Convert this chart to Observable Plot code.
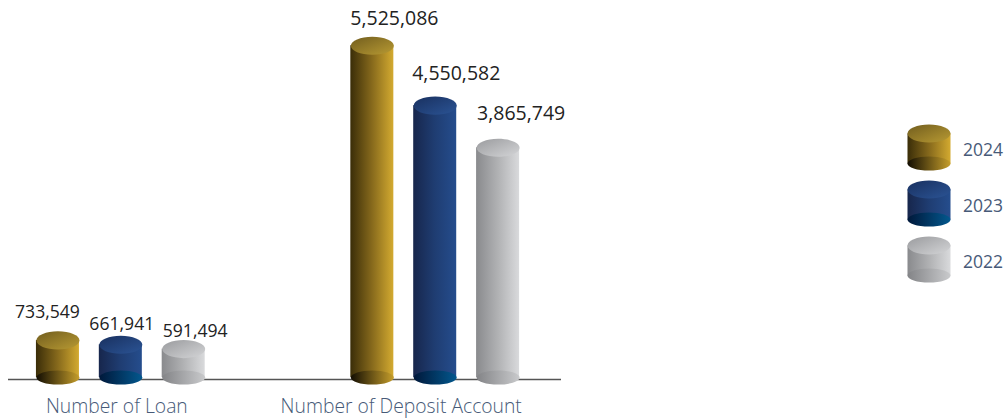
<!DOCTYPE html>
<html>
<head>
<meta charset="utf-8">
<script src="https://cdn.jsdelivr.net/npm/d3@7"></script>
<script src="https://cdn.jsdelivr.net/npm/@observablehq/plot@0.6"></script>
<style>
  html, body { margin: 0; padding: 0; background: #fff; }
  #wrap { position: relative; width: 1004px; height: 418px; }
  #legend { position: absolute; left: 880px; top: 90px; }
</style>
</head>
<body>
<div id="wrap"><div id="main"></div><div id="legend"></div></div>
<script>
// ---- data ----
const categories = ["Number of Loan", "Number of Deposit Account"];
const years = ["2024", "2023", "2022"];
const loanValues = [733549, 661941, 591494];
const depositValues = [5525086, 4550582, 3865749];
const seriesValues = [loanValues, depositValues];

// ---- styles ----
const palette = {
  "2024": {body: ["#3a2d08", "#86691c", "#d3aa30"], top: ["#715d1e", "#b89a33"], bottom: ["#120d02", "#c69e2b"]},
  "2023": {body: ["#17264c", "#1f3d72", "#254d8d"], top: ["#19305f", "#2b5495"], bottom: ["#00183a", "#03588e"]},
  "2022": {body: ["#898a8d", "#b0b1b3", "#d9dadc"], top: ["#9a9b9e", "#d4d5d7"], bottom: ["#838487", "#c9cacc"]}
};
// value-label placement per category and year: [anchor, dx, dy, fontSize]
const labelPlace = [
  {"2024": ["end", 22, -22, 17.6], "2023": ["middle", 1, -15, 17.6], "2022": ["start", -21, -12, 17.6]},
  {"2024": ["start", -22, -21, 19.5], "2023": ["start", -23, -26, 19.5], "2022": ["start", -21, -28, 19.5]}
];
const labelColor = "#475a78";
const font = "'Open Sans', 'Noto Sans', sans-serif";

// ---- table ----
const rows = [];
categories.forEach((c, ci) => years.forEach((y, yi) => rows.push({cat: c, year: y, value: seriesValues[ci][yi], key: c + "|" + y})));
const xDomain = [
  ...years.map(y => categories[0] + "|" + y), "gap1", "gap2",
  ...years.map(y => categories[1] + "|" + y)
];

function ellipse(k) {
  return {draw(ctx, size) {
    const rx = Math.sqrt(size / Math.PI), ry = rx * k, c = 0.5523;
    ctx.moveTo(rx, 0);
    ctx.bezierCurveTo(rx, ry * c, rx * c, ry, 0, ry);
    ctx.bezierCurveTo(-rx * c, ry, -rx, ry * c, -rx, 0);
    ctx.bezierCurveTo(-rx, -ry * c, -rx * c, -ry, 0, -ry);
    ctx.bezierCurveTo(rx * c, -ry, rx, -ry * c, rx, 0);
    ctx.closePath();
  }};
}
function bodyRect(hk) {
  return {draw(ctx, size) {
    const rx = Math.sqrt(size / Math.PI), h = rx * hk;
    ctx.rect(-rx, -h / 2, 2 * rx, h);
  }};
}
const topEll = ellipse(0.42), botEll = ellipse(0.33);
const rBar = 21.5;

const fmt = d3.format(",");
const marks = [Plot.ruleY([0], {stroke: "#555", strokeWidth: 1.6, dy: -6})];
years.forEach(y => {
  const d = rows.filter(r => r.year === y);
  marks.push(
    Plot.barY(d, {x: "key", y: "value", fill: `url(#body${y})`, insetBottom: 8}),
    Plot.dot(d, {x: "key", y: 0, r: rBar, symbol: botEll, fill: `url(#bot${y})`, dy: -8}),
    Plot.dot(d, {x: "key", y: "value", r: rBar, symbol: topEll, fill: `url(#top${y})`})
  );
});
categories.forEach((c, ci) => years.forEach(y => {
  const [anchor, dx, dy, fs] = labelPlace[ci][y];
  marks.push(Plot.text(rows.filter(r => r.cat === c && r.year === y), {x: "key", y: "value",
    text: d => fmt(d.value), textAnchor: anchor, lineAnchor: "bottom", dx, dy, fontSize: fs, fill: "#222"}));
}));
marks.push(
  Plot.text([categories[0]], {x: () => xDomain[1], y: () => 0, text: d => d, lineAnchor: "bottom",
    dx: -4, dy: 27, fontSize: 19.3, fontWeight: 300, fill: labelColor}),
  Plot.text([categories[1]], {x: () => xDomain[6], y: () => 0, text: d => d, lineAnchor: "bottom",
    dx: -34, dy: 27, fontSize: 19.3, fontWeight: 300, fill: labelColor})
);

const chart = Plot.plot({
  width: 1004, height: 418,
  marginLeft: 8, marginRight: 443, marginTop: 16, marginBottom: 33,
  x: {domain: xDomain, paddingInner: 0.316, paddingOuter: 0.5554, align: 0.40, round: false, axis: null},
  y: {domain: [0, 6000000], axis: null},
  style: {fontFamily: font, background: "transparent"},
  marks
});

// gradients
const defs = d3.select(chart).insert("defs", ":first-child");
years.forEach(y => {
  const p = palette[y];
  const add = (id, stops, x2, y2) => {
    const g = defs.append("linearGradient").attr("id", id)
      .attr("x1", 0).attr("y1", 0).attr("x2", x2).attr("y2", y2);
    stops.forEach((s, i) => g.append("stop").attr("offset", i / (stops.length - 1)).attr("stop-color", s));
  };
  add("body" + y, p.body, 1, 0);
  add("top" + y, p.top, 1, 1);
  add("bot" + y, p.bottom, 1, 0);
});
document.getElementById("main").appendChild(chart);

// legend
const legend = Plot.plot({
  width: 124, height: 200,
  marginTop: 57, marginBottom: 30, marginLeft: 0, marginRight: 27,
  y: {type: "point", domain: years, padding: 0, axis: null},
  style: {fontFamily: font, background: "transparent"},
  marks: [
    ...years.map(y => Plot.dot([y], {y: d => d, r: rBar, symbol: bodyRect(30 / 21.5), fill: `url(#body${y})`})),
    ...years.map(y => Plot.dot([y], {y: d => d, r: rBar, symbol: botEll, fill: `url(#bot${y})`, dy: 15})),
    ...years.map(y => Plot.dot([y], {y: d => d, r: rBar, symbol: topEll, fill: `url(#top${y})`, dy: -15})),
    Plot.text(years, {y: d => d, text: d => d, textAnchor: "start", dx: 34, dy: 2, fontSize: 17.5, fill: labelColor})
  ]
});
document.getElementById("legend").appendChild(legend);
</script>
</body>
</html>
